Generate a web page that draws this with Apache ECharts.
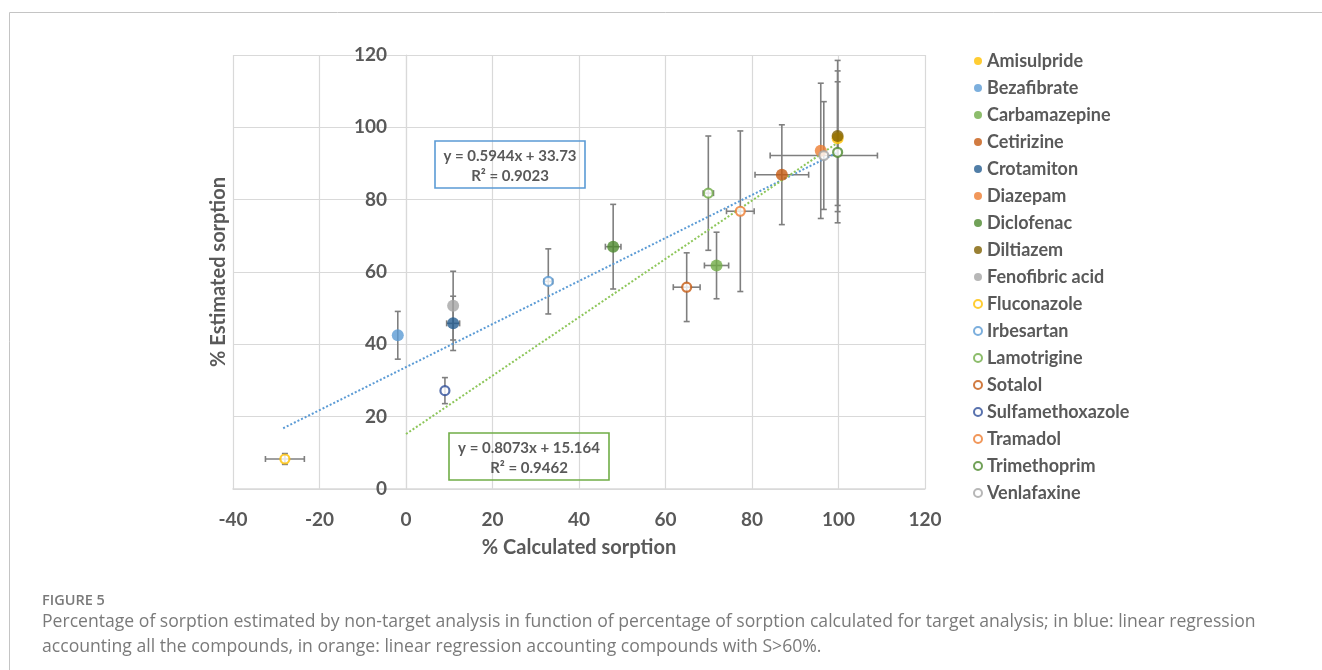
<!DOCTYPE html>
<html>
<head>
<meta charset="utf-8">
<script src="https://cdn.jsdelivr.net/npm/echarts@6/dist/echarts.min.js"></script>
<style>
html,body{margin:0;padding:0;background:#fff;}
#chart{width:1322px;height:670px;}
</style>
</head>
<body>
<div id="chart"></div>
<script>
// ---- data ----
const compounds = ['Amisulpride','Bezafibrate','Carbamazepine','Cetirizine','Crotamiton','Diazepam','Diclofenac','Diltiazem','Fenofibric acid','Fluconazole','Irbesartan','Lamotrigine','Sotalol','Sulfamethoxazole','Tramadol','Trimethoprim','Venlafaxine'];
const calcSorption = [99.8, -1.9, 71.8, 86.9, 10.9, 95.9, 47.9, 99.8, 10.9, -28.0, 32.9, 69.9, 64.9, 9.0, 77.3, 99.8, 96.6];
const estSorption  = [97.0, 42.5, 61.8, 86.9, 45.8, 93.5, 67.0, 97.6, 50.7, 8.3, 57.4, 81.8, 55.8, 27.2, 76.8, 93.1, 92.2];
const calcErr      = [0, 0, 2.8, 6.2, 1.5, 0, 1.8, 0, 0, 4.5, 1.0, 1.2, 3.1, 0, 3.2, 0, 12.4];
const estErr       = [18.6, 6.6, 9.2, 13.8, 7.5, 18.7, 11.7, 20.9, 9.5, 1.5, 9.0, 15.8, 9.5, 3.6, 22.2, 19.5, 14.9];
const hollow       = [false,false,false,false,false,false,false,false,false,true,true,true,true,true,true,true,true];
const colors       = ['#FFC000','#5B9BD5','#70AD47','#C55A11','#255E91','#ED7D31','#4E8A2E','#7F6000','#A5A5A5','#FFC000','#5B9BD5','#70AD47','#C55A11','#2F4F9A','#ED7D31','#4E8A2E','#A5A5A5'];
const xTicks = [-40, 120, 20];   // min, max, interval
const yTicks = [0, 120, 20];
// trendline endpoints (as drawn)
const trendAll  = [[-28.4, 16.8], [100, 93.2]];
const trendHigh = [[0, 15.2], [100, 95.9]];
const eqAll  = ['y = 0.5944x + 33.73', 'R² = 0.9023'];
const eqHigh = ['y = 0.8073x + 15.164', 'R² = 0.9462'];

const FONT = 'Lato';
const TXT = '#595959';

const GRID_L = 233, GRID_R = 925;
// distance from grid's left edge to x = 0, so the vertical axis crosses there
const yAxisShift = (0 - xTicks[0]) / (xTicks[1] - xTicks[0]) * (GRID_R - GRID_L);

const chart = echarts.init(document.getElementById('chart'), null, {renderer:'canvas'});

const errData = compounds.map((n,i)=>[calcSorption[i], estSorption[i], calcErr[i], estErr[i]]);

const series = [];
series.push({
  type:'custom',
  name:'errors',
  z:1,
  silent:true,
  data: errData,
  renderItem: function(params, api){
    const x = api.value(0), y = api.value(1), ex = api.value(2), ey = api.value(3);
    const children = [];
    const st = {stroke:'#7F7F7F', lineWidth:1.6};
    const cap = 3;
    if (ey > 0){
      const p1 = api.coord([x, y-ey]), p2 = api.coord([x, y+ey]);
      children.push({type:'line', shape:{x1:p1[0],y1:p1[1],x2:p2[0],y2:p2[1]}, style:st});
      children.push({type:'line', shape:{x1:p1[0]-cap,y1:p1[1],x2:p1[0]+cap,y2:p1[1]}, style:st});
      children.push({type:'line', shape:{x1:p2[0]-cap,y1:p2[1],x2:p2[0]+cap,y2:p2[1]}, style:st});
    }
    if (ex > 0){
      const p1 = api.coord([x-ex, y]), p2 = api.coord([x+ex, y]);
      children.push({type:'line', shape:{x1:p1[0],y1:p1[1],x2:p2[0],y2:p2[1]}, style:st});
      children.push({type:'line', shape:{x1:p1[0],y1:p1[1]-cap,x2:p1[0],y2:p1[1]+cap}, style:st});
      children.push({type:'line', shape:{x1:p2[0],y1:p2[1]-cap,x2:p2[0],y2:p2[1]+cap}, style:st});
    }
    return {type:'group', children};
  }
});
series.push({
  type:'line', name:'trendAll', data: trendAll, showSymbol:false, silent:true, z:2,
  lineStyle:{color:'#5B9BD5', width:2, type:'dotted'}
});
series.push({
  type:'line', name:'trendHigh', data: trendHigh, showSymbol:false, silent:true, z:2,
  lineStyle:{color:'#8DC65A', width:2, type:'dotted'}
});
compounds.forEach((n,i)=>{
  series.push({
    type:'scatter',
    name:n,
    z:3,
    data:[[calcSorption[i], estSorption[i]]],
    symbol:'circle',
    symbolSize: hollow[i] ? 9 : 12,
    itemStyle: hollow[i] ? {color:'#ffffff', borderColor:colors[i], borderWidth:2.2} : {color:colors[i]}
  });
});

function eqBox(x, y, w, h, color, lines){
  return [
    {type:'rect', shape:{x:x, y:y, width:w, height:h}, style:{fill:'none', stroke:color, lineWidth:1.6}, z:10},
    {type:'text', x:x + w/2, y:y + 15, z:11, style:{text:lines[0], align:'center', verticalAlign:'middle', font:'bold 15px '+FONT, fill:TXT}},
    {type:'text', x:x + w/2, y:y + 35, z:11, style:{text:lines[1], align:'center', verticalAlign:'middle', font:'bold 15px '+FONT, fill:TXT}}
  ];
}

const option = {
  backgroundColor:'#ffffff',
  animation:false,
  grid:{left:GRID_L, right:1322-GRID_R, top:55, bottom:181, containLabel:false},
  xAxis:{
    type:'value', min:xTicks[0], max:xTicks[1], interval:xTicks[2],
    name:'% Calculated sorption', nameLocation:'middle', nameGap:49,
    nameTextStyle:{fontFamily:FONT, fontWeight:'bold', fontSize:20, color:TXT},
    axisLine:{show:true, onZero:false, lineStyle:{color:'#D9D9D9', width:1.5}},
    axisTick:{show:false},
    axisLabel:{margin:21, fontFamily:FONT, fontWeight:'bold', fontSize:19, color:TXT},
    splitLine:{show:true, lineStyle:{color:'#D9D9D9', width:1.2}}
  },
  yAxis:{
    type:'value', min:yTicks[0], max:yTicks[1], interval:yTicks[2],
    position:'left', offset:-yAxisShift,
    name:'% Estimated sorption', nameLocation:'middle', nameGap:177,
    nameTextStyle:{fontFamily:FONT, fontWeight:'bold', fontSize:20, color:TXT},
    axisLine:{show:true, onZero:false, lineStyle:{color:'#D9D9D9', width:1.2}},
    axisTick:{show:false},
    axisLabel:{margin:19, fontFamily:FONT, fontWeight:'bold', fontSize:19, color:TXT},
    splitLine:{show:true, lineStyle:{color:'#D9D9D9', width:1.2}}
  },
  legend:{
    orient:'vertical', left:968, top:46,
    data: compounds,
    itemWidth:8, itemHeight:8, itemGap:7,
    icon:'circle',
    textStyle:{fontFamily:FONT, fontWeight:'bold', fontSize:18, color:TXT, lineHeight:20},
    selectedMode:false
  },
  series: series,
  graphic: [
    {type:'line', shape:{x1:9.5, y1:12.5, x2:1322, y2:12.5}, style:{stroke:'#C4C4C4', lineWidth:1}},
    {type:'line', shape:{x1:9.5, y1:12.5, x2:9.5, y2:670}, style:{stroke:'#C4C4C4', lineWidth:1}},
    ...eqBox(435, 141, 150, 47, '#5B9BD5', eqAll),
    ...eqBox(449, 433, 160, 47, '#70AD47', eqHigh),
    {type:'text', left:42, top:593, style:{text:'FIGURE 5', font:'600 14.5px "Open Sans"', fill:'#7A7A7A'}},
    {type:'text', left:42, top:613, style:{text:'Percentage of sorption estimated by non-target analysis in function of percentage of sorption calculated for target analysis; in blue: linear regression', font:'17.6px "Open Sans"', fill:'#7A7A7A'}},
    {type:'text', left:42, top:638, style:{text:'accounting all the compounds, in orange: linear regression accounting compounds with S>60%.', font:'17.6px "Open Sans"', fill:'#7A7A7A'}}
  ]
};
chart.setOption(option);
</script>
</body>
</html>
